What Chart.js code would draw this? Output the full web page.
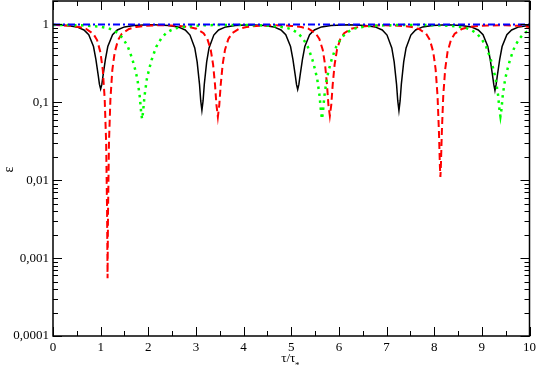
<!DOCTYPE html>
<html>
<head>
<meta charset="utf-8">
<script src="https://cdn.jsdelivr.net/npm/chart.js@4.4.1/dist/chart.umd.min.js"></script>
<style>
  body { margin: 0; background: #fff; }
  canvas { display: block; }
</style>
</head>
<body>
<canvas id="epsChart" width="540" height="370"></canvas>
<script>
// values
const blackX = [0, 0.3, 0.5, 0.65, 0.75, 0.85, 0.9, 0.95, 0.975, 1.0, 1.025, 1.05, 1.1, 1.15, 1.25, 1.35, 1.5, 1.7, 2.0,
  2.125, 2.425, 2.625, 2.775, 2.875, 2.975, 3.025, 3.075, 3.1, 3.125, 3.15, 3.175, 3.225, 3.275, 3.375, 3.475, 3.625, 3.825, 4.125,
  4.435, 4.635, 4.785, 4.885, 4.985, 5.035, 5.085, 5.11, 5.135, 5.16, 5.185, 5.235, 5.285, 5.385, 5.485, 5.635, 5.835, 6.2,
  6.56, 6.76, 6.91, 7.01, 7.11, 7.16, 7.21, 7.235, 7.26, 7.285, 7.31, 7.36, 7.41, 7.51, 7.61, 7.76, 7.96, 8.27,
  8.575, 8.775, 8.925, 9.025, 9.125, 9.175, 9.225, 9.25, 9.275, 9.3, 9.325, 9.375, 9.425, 9.525, 9.625, 9.775, 9.975, 10];
const blackY = [0.99, 0.97, 0.93, 0.85, 0.74, 0.52, 0.355, 0.22, 0.17, 0.148, 0.17, 0.22, 0.355, 0.52, 0.74, 0.85, 0.93, 0.97, 0.99,
  0.99, 0.97, 0.93, 0.85, 0.73, 0.5, 0.33, 0.17, 0.105, 0.079, 0.105, 0.17, 0.33, 0.5, 0.73, 0.85, 0.93, 0.97, 0.99,
  0.97, 0.93, 0.85, 0.74, 0.52, 0.355, 0.22, 0.17, 0.146, 0.17, 0.22, 0.355, 0.52, 0.74, 0.85, 0.93, 0.97, 0.99,
  0.97, 0.93, 0.85, 0.73, 0.5, 0.33, 0.17, 0.105, 0.078, 0.105, 0.17, 0.33, 0.5, 0.73, 0.85, 0.93, 0.97, 0.99,
  0.97, 0.93, 0.85, 0.74, 0.52, 0.355, 0.22, 0.17, 0.142, 0.17, 0.22, 0.355, 0.52, 0.74, 0.85, 0.93, 0.97, 0.972];

const redX = [0, 0.345, 0.545, 0.695, 0.845, 0.925, 0.995, 1.045, 1.085, 1.115, 1.135, 1.145, 1.155, 1.175, 1.205, 1.245, 1.295, 1.365, 1.445, 1.595, 1.745, 1.945, 2.145, 2.3,
  2.46, 2.66, 2.86, 3.01, 3.16, 3.24, 3.31, 3.36, 3.40, 3.43, 3.46, 3.49, 3.52, 3.56, 3.61, 3.68, 3.76, 3.91, 4.06, 4.26, 4.46, 4.64,
  4.81, 5.01, 5.21, 5.36, 5.51, 5.59, 5.66, 5.71, 5.75, 5.78, 5.81, 5.84, 5.87, 5.91, 5.96, 6.03, 6.11, 6.26, 6.41, 6.61, 6.81, 6.97,
  7.13, 7.33, 7.53, 7.68, 7.83, 7.91, 7.98, 8.03, 8.07, 8.10, 8.12, 8.13, 8.14, 8.16, 8.19, 8.23, 8.28, 8.35, 8.43, 8.58, 8.73, 8.93, 9.13, 9.5, 9.8, 10];
const redY = [0.99, 0.96, 0.93, 0.875, 0.76, 0.63, 0.44, 0.26, 0.11, 0.031, 0.004, 0.00055, 0.004, 0.031, 0.11, 0.26, 0.44, 0.63, 0.76, 0.875, 0.93, 0.96, 0.975, 0.975,
  0.972, 0.957, 0.926, 0.883, 0.773, 0.65, 0.475, 0.305, 0.169, 0.093, 0.065, 0.093, 0.169, 0.305, 0.475, 0.65, 0.773, 0.883, 0.926, 0.957, 0.972, 0.975,
  0.972, 0.957, 0.926, 0.883, 0.773, 0.65, 0.475, 0.305, 0.169, 0.093, 0.067, 0.093, 0.169, 0.305, 0.475, 0.65, 0.773, 0.883, 0.926, 0.957, 0.972, 0.975,
  0.972, 0.957, 0.926, 0.875, 0.76, 0.63, 0.444, 0.265, 0.121, 0.041, 0.015, 0.011, 0.015, 0.041, 0.121, 0.265, 0.444, 0.63, 0.76, 0.875, 0.926, 0.957, 0.972, 0.975, 0.96, 0.93];

const greenX = [0, 0.27, 0.67, 0.97, 1.17, 1.27, 1.37, 1.47, 1.57, 1.62, 1.67, 1.72, 1.77, 1.82, 1.85, 1.87, 1.89, 1.92, 1.97, 2.02, 2.07, 2.12, 2.17, 2.27, 2.37, 2.47, 2.57, 2.77, 3.07, 3.47, 3.76,
  4.045, 4.445, 4.745, 4.945, 5.045, 5.145, 5.245, 5.345, 5.395, 5.445, 5.495, 5.545, 5.595, 5.625, 5.645, 5.665, 5.695, 5.745, 5.795, 5.845, 5.895, 5.945, 6.045, 6.145, 6.245, 6.345, 6.545, 6.845, 7.245, 7.52,
  7.79, 8.19, 8.49, 8.69, 8.79, 8.89, 8.99, 9.09, 9.14, 9.19, 9.24, 9.29, 9.34, 9.37, 9.39, 9.41, 9.44, 9.49, 9.54, 9.59, 9.64, 9.69, 9.79, 9.89, 9.99, 10];
const greenY = [0.985, 0.985, 0.97, 0.94, 0.89, 0.84, 0.77, 0.66, 0.52, 0.43, 0.35, 0.27, 0.2, 0.12, 0.075, 0.061, 0.075, 0.12, 0.2, 0.27, 0.35, 0.43, 0.52, 0.66, 0.77, 0.84, 0.89, 0.94, 0.97, 0.985, 0.985,
  0.985, 0.97, 0.94, 0.89, 0.84, 0.77, 0.66, 0.52, 0.43, 0.35, 0.27, 0.2, 0.12, 0.075, 0.061, 0.075, 0.12, 0.2, 0.27, 0.35, 0.43, 0.52, 0.66, 0.77, 0.84, 0.89, 0.94, 0.97, 0.985, 0.985,
  0.985, 0.97, 0.94, 0.89, 0.84, 0.77, 0.66, 0.52, 0.43, 0.35, 0.27, 0.2, 0.125, 0.08, 0.066, 0.08, 0.125, 0.2, 0.27, 0.35, 0.43, 0.52, 0.66, 0.77, 0.84, 0.845];

const blueX = [0, 2.5, 5, 7.5, 10];
const blueY = [1, 1, 1, 1, 1];

const yTickValues = [0.0001, 0.001, 0.01, 0.1, 1];
const yTickLabels = ['0,0001', '0,001', '0,01', '0,1', '1'];

const FONT = 'Liberation Serif';

function points(xs, ys) {
    return xs.map((x, i) => ({ x: x, y: ys[i] }));
}

// xmgrace-like frame with inward ticks on all four sides
const framePlugin = {
    id: 'frame',
    afterDatasetsDraw(chart) {
        const ctx = chart.ctx;
        const a = chart.chartArea;
        const xs = chart.scales.x;
        const ys = chart.scales.y;
        ctx.save();
        ctx.strokeStyle = '#000';
        ctx.lineWidth = 1;
        ctx.beginPath();
        for (let v = 0; v <= 10.001; v += 0.5) {
            const px = Math.round(xs.getPixelForValue(v)) + 0.5;
            const len = (Math.abs(v - Math.round(v)) < 0.01) ? 9 : 5;
            ctx.moveTo(px, a.bottom); ctx.lineTo(px, a.bottom - len);
            ctx.moveTo(px, a.top); ctx.lineTo(px, a.top + len);
        }
        for (let d = 0.0001; d <= 1.001; d *= 10) {
            for (let m = 1; m <= 9; m++) {
                const v = d * m;
                if (v > 2.0001) continue;
                const py = Math.round(ys.getPixelForValue(v)) + 0.5;
                const len = m === 1 ? 9 : 5;
                ctx.moveTo(a.left, py); ctx.lineTo(a.left + len, py);
                ctx.moveTo(a.right, py); ctx.lineTo(a.right - len, py);
            }
        }
        ctx.stroke();
        ctx.lineWidth = 1.5;
        ctx.strokeRect(a.left, a.top, a.right - a.left, a.bottom - a.top);

        // axis titles
        ctx.fillStyle = '#000';
        ctx.font = '13px "' + FONT + '"';
        ctx.textAlign = 'center';
        ctx.textBaseline = 'alphabetic';
        const cx = (a.left + a.right) / 2;
        ctx.fillText('τ/τ', cx - 3, 362);
        ctx.font = '9px "' + FONT + '"';
        ctx.fillText('*', cx + 6, 368);
        ctx.font = '14px "' + FONT + '"';
        ctx.translate(9, (a.top + a.bottom) / 2 + 1);
        ctx.rotate(-Math.PI / 2);
        ctx.textBaseline = 'middle';
        ctx.fillText('ε', 0, 0);
        ctx.restore();
    }
};

new Chart(document.getElementById('epsChart'), {
    type: 'line',
    data: {
        datasets: [
            { label: 'black', data: points(blackX, blackY), borderColor: '#000000', borderWidth: 1.5, order: 3 },
            { label: 'red', data: points(redX, redY), borderColor: '#ff0000', borderWidth: 2, borderDash: [7, 4], order: 2 },
            { label: 'green', data: points(greenX, greenY), borderColor: '#00ff00', borderWidth: 2.5, borderDash: [2.5, 4.5], order: 1 },
            { label: 'blue', data: points(blueX, blueY), borderColor: '#0000ff', borderWidth: 2, borderDash: [7, 3, 2, 3], order: 0 }
        ]
    },
    options: {
        responsive: false,
        animation: false,
        devicePixelRatio: 1,
        layout: { padding: { top: 1, right: 8, left: 0, bottom: 0 } },
        elements: { point: { radius: 0 }, line: { tension: 0, fill: false } },
        plugins: { legend: { display: false }, tooltip: { enabled: false } },
        scales: {
            x: {
                type: 'linear', min: 0, max: 10,
                grid: { display: false, drawTicks: false },
                border: { display: false },
                ticks: { stepSize: 1, padding: 4, maxRotation: 0, autoSkip: false, color: '#000', font: { family: FONT, size: 13 } },
                afterFit(scale) { scale.height = 34; }
            },
            y: {
                type: 'logarithmic', min: 0.0001, max: 2,
                grid: { display: false, drawTicks: false },
                border: { display: false },
                afterBuildTicks(scale) {
                    scale.ticks = yTickValues.map(v => ({ value: v, major: true }));
                },
                ticks: {
                    padding: 4, color: '#000', font: { family: FONT, size: 13 },
                    callback: (value, index) => yTickLabels[index]
                },
                afterFit(scale) {
                    scale.width = 53;
                    scale.paddingTop = 0;
                    scale.paddingBottom = 0;
                }
            }
        }
    },
    plugins: [framePlugin]
});
</script>
</body>
</html>
